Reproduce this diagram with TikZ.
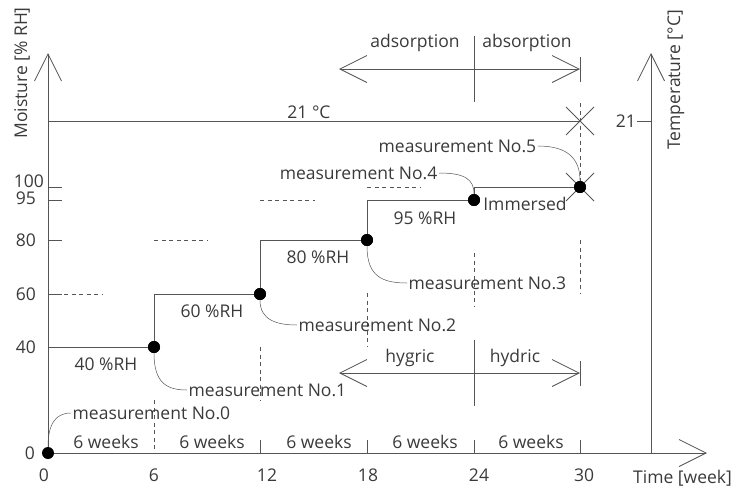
\documentclass[tikz,border=0pt]{standalone}
\usepackage{fontspec}
\setmainfont{Open Sans}
\usetikzlibrary{arrows.meta}
\definecolor{lc}{HTML}{555555}
\definecolor{tc}{HTML}{3a3a3a}
\begin{document}
\begin{tikzpicture}[x=1pt,y=-1pt,
  ln/.style={draw=lc,line width=0.8pt},
  lead/.style={draw=lc,line width=0.5pt},
  dsh/.style={draw=lc,line width=0.8pt,dash pattern=on 4pt off 3.5pt},
  lbl/.style={text=tc,font=\fontsize{17.5}{20}\selectfont,inner sep=0pt},
  mlbl/.style={lbl,inner sep=1.5pt},
  dotn/.style={circle,fill=black,minimum size=12pt,inner sep=0pt},
  vtip/.style={-{Straight Barb[length=27pt,width=27pt]}},
  vtips/.style={{Straight Barb[length=27pt,width=27pt]}-{Straight Barb[length=27pt,width=27pt]}}]
\useasboundingbox (0,0) rectangle (731,491);
% coordinates
\coordinate (o) at (48,453);
\coordinate (ytop) at (48,53);
\coordinate (xend) at (707,453);
\coordinate (tbot) at (651,453);
\coordinate (ttop) at (651,53);
\coordinate (s40) at (48,347);
% axes
\draw[ln,vtip] (o) -- (ytop);
\draw[ln,vtip] (o) -- (xend);
\draw[ln,vtip] (tbot) -- (ttop);
% y ticks
\foreach \yy in {347,294,240,200,187} \draw[ln] (48,\yy) -- (62,\yy);
\node[lbl,anchor=east] (y0) at (35,453) {0};
\node[lbl,anchor=east] (y40) at (36,347) {40};
\node[lbl,anchor=east] (y60) at (36,294) {60};
\node[lbl,anchor=east] (y80) at (36,240) {80};
\node[lbl,anchor=east] (y95) at (36,198) {95};
\node[lbl,anchor=east] (y100) at (44,181) {100};
% temperature tick
\draw[ln] (637,121) -- (651,121);
\node[lbl,anchor=east] (t21) at (636,121) {21};
% x tick labels
\node[lbl] (x0) at (44,475) {0};
\node[lbl] (x6) at (154,475) {6};
\node[lbl] (x12) at (267,475) {12};
\node[lbl] (x18) at (368,475) {18};
\node[lbl] (x24) at (479,475) {24};
\node[lbl] (x30) at (584,475) {30};
\node[lbl,anchor=west] (xl) at (633,478) {Time [week]};
% axis titles
\node[lbl,rotate=90] (ml) at (22,73) {Moisture [\% RH]};
\node[lbl,rotate=90] (tl) at (676,80) {Temperature [°C]};
% bottom ticks
\foreach \xx in {260,367,474,580} \draw[ln] (\xx,440) -- (\xx,453);
% 6 weeks labels
\foreach \xx in {106,212,319,425,531} \node[lbl] at (\xx,442) {6 weeks};
% dashed verticals
\draw[dsh] (154,400) -- (154,453);
\draw[dsh] (260,347) -- (260,400);
\draw[dsh] (367,293) -- (367,347);
\draw[dsh] (474,253) -- (474,307);
\draw[dsh] (580,240) -- (580,293);
\draw[dsh] (580,103) -- (580,187);
% dashed horizontals
\draw[dsh] (64,294) -- (102,294);
\draw[dsh] (154,240) -- (208,240);
\draw[dsh] (260,200) -- (315,200);
\draw[dsh] (367,187) -- (420,187);
% temperature line and crosses
\draw[ln] (48,121) -- (580,121);
\node[lbl] (t21c) at (309,112) {21 °C};
\draw[ln] (566,107) -- (594,135) (566,135) -- (594,107);
\draw[ln] (566,173) -- (594,201) (566,201) -- (594,173);
% top arrow
\coordinate (aL) at (339,69);
\coordinate (aR) at (580,69);
\draw[ln,vtips] (aL) -- (aR);
\draw[ln] (580,57) -- (580,82);
\draw[ln] (474,36) -- (474,102);
\node[lbl] (ads) at (415,43) {adsorption};
\node[lbl] (abs) at (527,43) {absorption};
% bottom arrow
\coordinate (bL) at (339,373);
\coordinate (bR) at (580,373);
\draw[ln,vtips] (bL) -- (bR);
\draw[ln] (580,361) -- (580,386);
\draw[ln] (474,340) -- (474,406);
\node[lbl] (hyg) at (410,358) {hygric};
\node[lbl] (hyd) at (515,358) {hydric};
% dots
\node[dotn] (d0) at (48,453) {};
\node[dotn] (d1) at (154,347) {};
\node[dotn] (d2) at (260,294) {};
\node[dotn] (d3) at (367,240) {};
\node[dotn] (d4) at (474,200) {};
\node[dotn] (d5) at (580,187) {};
% step line
\draw[ln] (s40) -- (d1.center) |- (d2.center) |- (d3.center) |- (d4.center) |- (d5.center);
\node[dotn] at (d1) {};
\node[dotn] at (d2) {};
\node[dotn] at (d3) {};
\node[dotn] at (d4) {};
\node[dotn] at (d5) {};
% step labels
\node[lbl] (r40) at (106,364) {40 \%RH};
\node[lbl] (r60) at (212,311) {60 \%RH};
\node[lbl] (r80) at (318,257) {80 \%RH};
\node[lbl] (r95) at (425,218) {95 \%RH};
\node[lbl] (imm) at (525,204) {Immersed};
% measurement labels
\node[mlbl,anchor=west] (m0) at (71,413) {measurement No.0};
\node[mlbl,anchor=west] (m1) at (187,390) {measurement No.1};
\node[mlbl,anchor=west] (m2) at (297,325) {measurement No.2};
\node[mlbl,anchor=west] (m3) at (407,283) {measurement No.3};
\node[mlbl,anchor=east] (m4) at (439,173) {measurement No.4};
\node[mlbl,anchor=west] (m5) at (377,146) {measurement No.5};
% leaders
\draw[lead] (d0.north) .. controls +(0,-22) and +(-16,0) .. (m0.west);
\draw[lead] (d1.south) .. controls +(0,30) and +(-20,0) .. (m1.west);
\draw[lead] (d2.south) .. controls +(0,20) and +(-20,0) .. (m2.west);
\draw[lead] (d3.south) .. controls +(0,30) and +(-25,0) .. (m3.west);
\draw[lead] (m4.east) .. controls +(25,0) and +(0,-15) .. (d4.north);
\draw[lead] (m5.east) .. controls +(30,0) and +(0,-22) .. (d5.north);
\end{tikzpicture}
\end{document}
